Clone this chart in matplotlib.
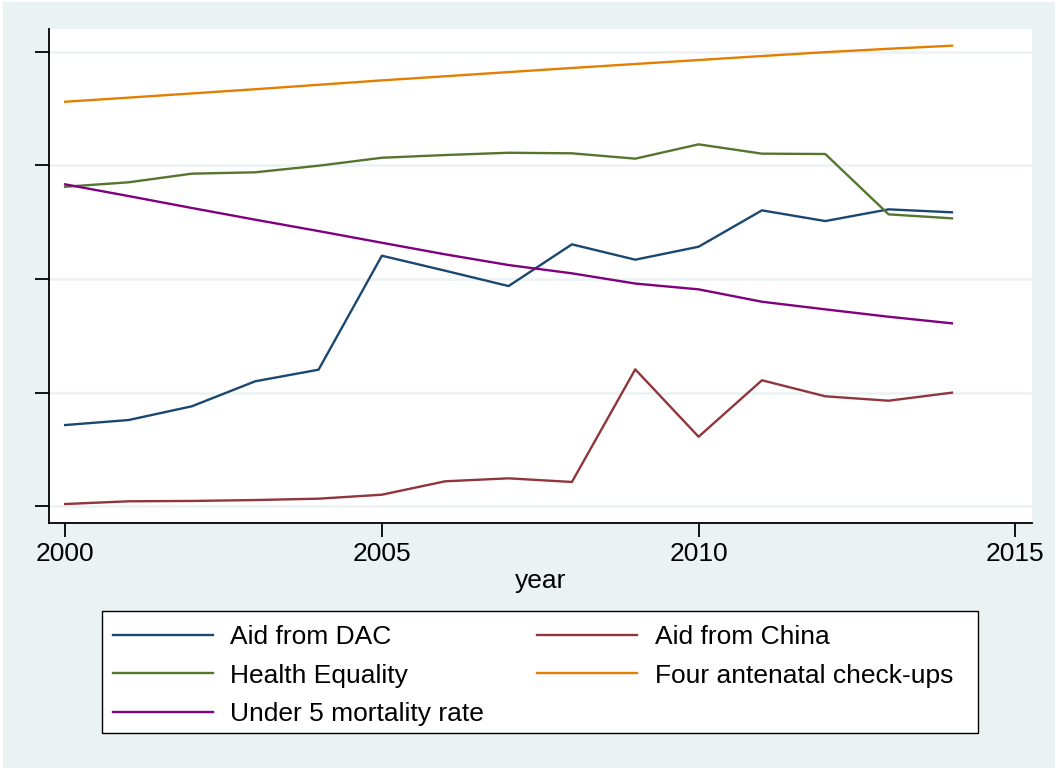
import matplotlib.pyplot as plt
from matplotlib.patches import Rectangle

plt.rcParams['font.family'] = ['Liberation Sans', 'DejaVu Sans']

years = list(range(2000, 2015))

# standardised series (no units on the y axis)
aid_dac = [0.715, 0.759, 0.880, 1.100, 1.202, 2.205, 2.073, 1.938, 2.305, 2.170,
           2.284, 2.604, 2.510, 2.613, 2.587]
aid_china = [0.020, 0.044, 0.047, 0.055, 0.067, 0.102, 0.220, 0.246, 0.214, 1.205,
             0.612, 1.109, 0.968, 0.929, 1.000]
health_eq = [2.812, 2.851, 2.927, 2.939, 2.997, 3.067, 3.091, 3.111, 3.106, 3.059,
             3.185, 3.103, 3.100, 2.569, 2.534]
antenatal = [3.560, 3.596, 3.633, 3.670, 3.709, 3.748, 3.784, 3.821, 3.857, 3.892,
             3.927, 3.962, 3.996, 4.026, 4.053]
u5mr = [2.833, 2.730, 2.625, 2.522, 2.422, 2.319, 2.217, 2.123, 2.050, 1.960,
        1.909, 1.800, 1.733, 1.668, 1.610]

xticks = [2000, 2005, 2010, 2015]
yticks = [0, 1, 2, 3, 4]

bg = '#EAF2F3'
W, H = 1058, 770

fig = plt.figure(figsize=(W / 100, H / 100), dpi=100, facecolor='white')
fig.patches.append(Rectangle((3 / W, 2 / H), 1052 / W, 766 / H, transform=fig.transFigure,
                             facecolor=bg, edgecolor='none', zorder=-10))

ax = fig.add_axes([48.7 / W, 1 - 523 / H, (1032.4 - 48.7) / W, (523 - 29) / H])
ax.set_facecolor('white')

lw = 1.7
l_dac, = ax.plot(years, aid_dac, color='#1A476F', lw=lw, label='Aid from DAC')
l_chn, = ax.plot(years, aid_china, color='#90353B', lw=lw, label='Aid from China')
l_heq, = ax.plot(years, health_eq, color='#55752F', lw=lw, label='Health Equality')
l_ant, = ax.plot(years, antenatal, color='#E37E00', lw=lw, label='Four antenatal check-ups')
l_u5, = ax.plot(years, u5mr, color='#800080', lw=lw, label='Under 5 mortality rate')

ax.set_xlim(1999.74, 2015.27)
ax.set_ylim(-0.147, 4.2)
ax.set_xticks(xticks)
ax.set_xticklabels([str(t) for t in xticks], fontsize=19)
ax.set_yticks(yticks)
ax.set_yticklabels([])
ax.grid(axis='y', color=bg, lw=1.8)
ax.set_axisbelow(True)
ax.tick_params(axis='both', length=10, width=1.3, color='black', pad=4)

for s in ['top', 'right']:
    ax.spines[s].set_visible(False)
for s in ['left', 'bottom']:
    ax.spines[s].set_linewidth(1.3)

ax.set_xlabel('year', fontsize=19, labelpad=2)

# legend box drawn separately so the padding can be uneven
fig.patches.append(Rectangle((102.4 / W, 1 - 733.3 / H), (978 - 102.4) / W, (733.3 - 610.7) / H,
                             transform=fig.transFigure, facecolor='white',
                             edgecolor='black', lw=1.0, zorder=1))
leg = fig.legend(handles=[l_dac, l_heq, l_u5, l_chn, l_ant], ncol=2,
                 loc='upper left', bbox_to_anchor=(113 / W, 1 - 625 / H),
                 borderaxespad=0, borderpad=0, frameon=False,
                 fontsize=19, handlelength=3.8, handletextpad=0.65,
                 labelspacing=0.55, columnspacing=2.0)
leg.set_zorder(2)

fig.savefig('out.png', dpi=100, facecolor=fig.get_facecolor())
